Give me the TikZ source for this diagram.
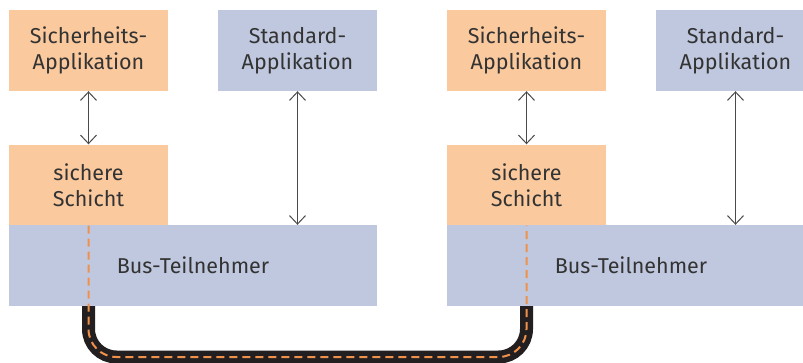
\documentclass[tikz,border=0pt]{standalone}
\usepackage{fontspec}
\setmainfont{Fira Sans}
\usetikzlibrary{arrows.meta}
\definecolor{safeorange}{HTML}{FAC99E}
\definecolor{stdblue}{HTML}{C0C8DF}
\definecolor{dashorange}{HTML}{F0914B}
\definecolor{cableblack}{HTML}{231F20}
\definecolor{txtgray}{HTML}{333333}
\definecolor{arrgray}{HTML}{4A4A4A}
\tikzset{
  box/.style={rectangle, inner sep=0pt, minimum width=159pt, minimum height=81pt,
    align=center, text=txtgray, font=\fontsize{21.5}{26}\selectfont},
  safebox/.style={box, fill=safeorange},
  stdbox/.style={box, fill=stdblue},
  busbox/.style={box, fill=stdblue, minimum width=368pt},
  arr/.style={draw=arrgray, line width=1pt, {Straight Barb[length=8.5pt,width=16pt]}-{Straight Barb[length=8.5pt,width=16pt]}},
  cable/.style={draw=cableblack, line width=13pt, rounded corners=28pt},
  safeline/.style={draw=dashorange, line width=2pt, dash pattern=on 8pt off 5pt, rounded corners=28pt}
}
\begin{document}
\begin{tikzpicture}[x=1pt,y=-1pt]
\useasboundingbox (0,0) rectangle (803,362);
\clip (0,0) rectangle (803,362);
% left device
\node[safebox] (sapL) at (88.5,50.5) {Sicherheits-\\Applikation};
\node[stdbox]  (stdL) at (297.5,50.5) {Standard-\\Applikation};
\node[safebox] (schL) at (88.5,185) {sichere\\Schicht};
\node[busbox]  (busL) at (193,265.5) {Bus-Teilnehmer};
% right device
\node[safebox] (sapR) at (526.5,50.5) {Sicherheits-\\Applikation};
\node[stdbox]  (stdR) at (735.5,50.5) {Standard-\\Applikation};
\node[safebox] (schR) at (526.5,185) {sichere\\Schicht};
\node[busbox]  (busR) at (631,265.5) {Bus-Teilnehmer};
% arrows
\draw[arr] (sapL.south) -- (schL.north);
\draw[arr] (stdL.south) -- (stdL.south |- busL.north);
\draw[arr] (sapR.south) -- (schR.north);
\draw[arr] (stdR.south) -- (stdR.south |- busR.north);
% cable
\coordinate (cL) at (schL.south |- busL.south);
\coordinate (cR) at (schR.south |- busR.south);
\coordinate (bL) at (88.5,357);
\coordinate (bR) at (526.5,357);
\path[cable] (cL) -- (bL) -- (bR) -- (cR);
\path[safeline] (schL.south) -- (bL) -- (bR) -- (schR.south);
\end{tikzpicture}
\end{document}
